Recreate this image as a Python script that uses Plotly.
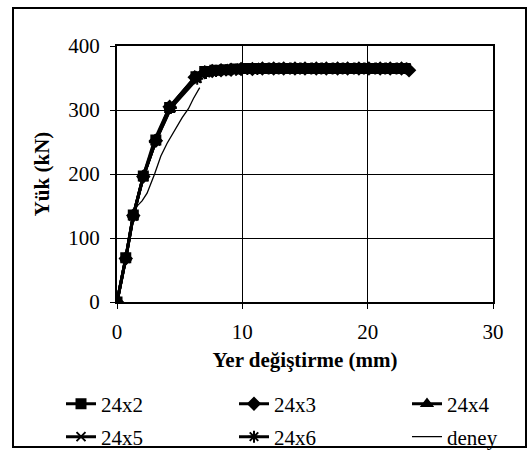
import plotly.graph_objects as go

# ---- data ----
x_24x2 = [0, 0.7, 1.3, 2.1, 3.1, 4.2, 6.3, 7.0, 7.8, 8.6, 9.4, 10.3, 11.1, 12.0, 12.8, 13.7, 14.5, 15.4, 16.2, 17.1, 17.9, 18.8, 19.6, 20.5, 21.3, 22.2, 23.0]
y_24x2 = [0, 69, 136, 197, 253, 304, 352, 360, 362, 363, 364, 365, 365, 365, 365, 365, 365, 365, 365, 365, 365, 365, 365, 365, 365, 365, 365]
x_24x3 = [0, 0.7, 1.3, 2.1, 3.1, 4.2, 6.2, 7.0, 7.6, 8.3, 9.1, 9.9, 10.8, 11.6, 12.5, 13.3, 14.2, 15.0, 15.9, 16.7, 17.6, 18.4, 19.3, 20.1, 21.0, 21.8, 22.7, 23.3]
y_24x3 = [0, 68, 135, 196, 252, 305, 351, 359, 361, 362, 363, 364, 364, 365, 365, 365, 365, 365, 365, 365, 365, 365, 365, 365, 365, 365, 365, 362]
x_24x4 = [0, 0.7, 1.3, 2.1, 3.0, 4.2, 6.3, 7.1, 7.9, 8.8, 9.6, 10.5, 11.3, 12.2, 13.0, 13.9, 14.7, 15.6, 16.4, 17.3, 18.1, 19.0, 19.8, 20.7, 21.5, 22.4, 23.1]
y_24x4 = [0, 68, 135, 197, 253, 305, 352, 360, 362, 363, 364, 364, 365, 365, 365, 365, 365, 365, 365, 365, 365, 365, 365, 365, 365, 365, 365]
x_24x5 = [0, 0.7, 1.3, 2.1, 3.1, 4.3, 6.3, 7.0, 7.7, 8.5, 9.3, 10.1, 11.0, 11.8, 12.7, 13.5, 14.4, 15.2, 16.1, 16.9, 17.8, 18.6, 19.5, 20.3, 21.2, 22.0, 22.9]
y_24x5 = [0, 69, 135, 196, 252, 304, 350, 359, 361, 362, 363, 364, 365, 365, 365, 365, 365, 365, 365, 365, 365, 365, 365, 365, 365, 365, 365]
x_24x6 = [0, 0.7, 1.3, 2.1, 3.1, 4.3, 6.4, 7.1, 7.9, 8.7, 9.5, 10.4, 11.2, 12.1, 12.9, 13.8, 14.6, 15.5, 16.3, 17.2, 18.0, 18.9, 19.7, 20.6, 21.4, 22.3, 23.1]
y_24x6 = [0, 68, 134, 196, 252, 303, 349, 358, 361, 362, 363, 364, 364, 365, 365, 365, 365, 365, 365, 365, 365, 365, 365, 365, 365, 365, 365]
x_deney = [0, 0.7, 1.3, 1.6, 2.0, 2.4, 3.0, 3.5, 4.0, 4.6, 5.2, 5.7, 6.1, 6.6]
y_deney = [0, 68, 135, 150, 158, 170, 200, 228, 248, 268, 288, 302, 318, 335]

x_ticks = [0, 10, 20, 30]
y_ticks = [0, 100, 200, 300, 400]
x_title = "Yer değiştirme (mm)"
y_title = "Yük (kN)"

FONT = "Liberation Serif"

series = [
    ("24x2", x_24x2, y_24x2, "square", 9, "legend", 128),
    ("24x3", x_24x3, y_24x3, "diamond", 9, "legend", 128),
    ("24x4", x_24x4, y_24x4, "triangle-up", 9, "legend", 60),
    ("24x5", x_24x5, y_24x5, "x-thin-open", 9, "legend2", 128),
    ("24x6", x_24x6, y_24x6, "asterisk-open", 10, "legend2", 128),
]

fig = go.Figure()
for name, xs, ys, sym, size, lg, lw in series:
    fig.add_trace(go.Scatter(
        x=xs, y=ys, name=name, mode="lines+markers",
        line=dict(color="black", width=3),
        marker=dict(symbol=sym, size=size, color="black",
                    line=dict(color="black", width=2)),
        legend=lg, legendwidth=lw,
    ))
fig.add_trace(go.Scatter(
    x=x_deney, y=y_deney, name="deney", mode="lines",
    line=dict(color="black", width=1.3),
    legend="legend2", legendwidth=70,
))

axis_common = dict(
    showline=True, linecolor="black", linewidth=2, mirror=True,
    showgrid=True, gridcolor="black", gridwidth=1,
    ticks="outside", ticklen=5, tickcolor="black", tickwidth=1,
    zeroline=False,
    tickfont=dict(family=FONT, size=21, color="black"),
)

fig.update_xaxes(
    range=[0, 30], tickvals=x_ticks, ticklabelstandoff=5,
    title=dict(text=x_title, font=dict(family=FONT, size=21, color="black", weight="bold"), standoff=9),
    **axis_common,
)
fig.update_yaxes(
    range=[0, 400], tickvals=y_ticks, ticklabelstandoff=6,
    title=dict(text=y_title, font=dict(family=FONT, size=21, color="black", weight="bold"), standoff=13),
    **axis_common,
)

leg_common = dict(
    orientation="h", xanchor="left", yanchor="middle",
    font=dict(family=FONT, size=21, color="black"),
    bgcolor="rgba(0,0,0,0)", borderwidth=0,
    itemwidth=30, tracegroupgap=0,
)
fig.update_layout(
    width=528, height=450,
    margin=dict(l=117, r=35, t=46, b=148, autoexpand=False),
    paper_bgcolor="white", plot_bgcolor="white",
    showlegend=True,
    legend=dict(x=(61 - 117) / 376, y=(302 - 404) / 256, **leg_common),
    legend2=dict(x=(61 - 117) / 376, y=(302 - 437) / 256, **leg_common),
    shapes=[dict(
        type="rect", xref="paper", yref="paper",
        x0=(13 - 117) / 376, x1=(526 - 117) / 376,
        y0=(302 - 447) / 256, y1=(302 - 8) / 256,
        line=dict(color="black", width=2), layer="above",
    )],
)

fig.write_html(
    "out.html",
    config={"displayModeBar": False},
    post_script="document.body.style.margin='0';document.body.style.overflow='hidden';",
)
